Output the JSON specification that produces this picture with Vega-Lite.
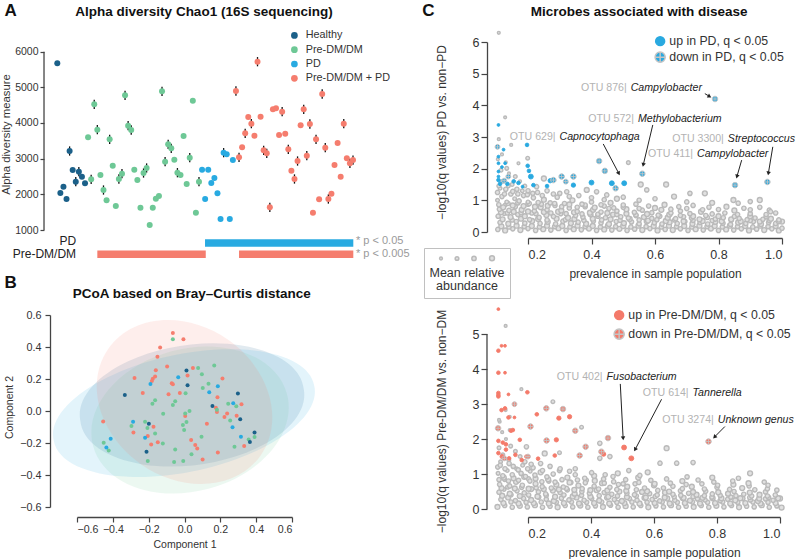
{
"$schema":"https://vega.github.io/schema/vega-lite/v6.json",
"padding":{"left":0,"top":2,"right":25,"bottom":5},
"background":"white",
"columns":2,
"bounds":"flush",
"spacing":{"row":83,"column":175},
"resolve":{"scale":{"x":"independent","y":"independent","color":"independent","fill":"independent","size":"independent","shape":"independent","stroke":"independent","angle":"independent"},"legend":{"color":"independent","fill":"independent","size":"independent","shape":"independent","stroke":"independent"}},
"config":{"font":"Liberation Sans","view":{"stroke":null},"axis":{"grid":false,"domainColor":"#444","tickColor":"#444","labelColor":"#333","titleColor":"#333","titleFontWeight":"normal","domainWidth":1.3,"tickWidth":1.2,"labelOverlap":false,"tickCount":20},"legend":{"labelColor":"#333","labelFont":"Liberation Sans","labelLimit":300}},
"datasets":{
"alpha":[
{"i":0,"v":5674,"g":"Healthy","err":0},{"i":1,"v":2038,"g":"Healthy","err":0},{"i":2,"v":2214,"g":"Healthy","err":0},{"i":3,"v":1869,"g":"Healthy","err":0},{"i":4,"v":3215,"g":"Healthy","err":130},{"i":5,"v":2683,"g":"Healthy","err":0},{"i":6,"v":2354,"g":"Healthy","err":130},{"i":7,"v":2634,"g":"Healthy","err":130},{"i":8,"v":2494,"g":"Healthy","err":0},{"i":9,"v":2309,"g":"Healthy","err":0},
{"i":10,"v":3599,"g":"Pre-DM/DM","err":0},{"i":11,"v":2421,"g":"Pre-DM/DM","err":130},{"i":12,"v":4524,"g":"Pre-DM/DM","err":130},{"i":13,"v":3812,"g":"Pre-DM/DM","err":130},{"i":14,"v":2542,"g":"Pre-DM/DM","err":0},{"i":15,"v":2121,"g":"Pre-DM/DM","err":130},{"i":16,"v":1832,"g":"Pre-DM/DM","err":0},{"i":17,"v":3543,"g":"Pre-DM/DM","err":130},{"i":18,"v":2803,"g":"Pre-DM/DM","err":0},{"i":19,"v":1672,"g":"Pre-DM/DM","err":0},{"i":20,"v":2430,"g":"Pre-DM/DM","err":130},{"i":21,"v":2579,"g":"Pre-DM/DM","err":130},{"i":22,"v":4777,"g":"Pre-DM/DM","err":130},{"i":23,"v":3925,"g":"Pre-DM/DM","err":130},{"i":24,"v":3804,"g":"Pre-DM/DM","err":130},{"i":25,"v":2691,"g":"Pre-DM/DM","err":0},{"i":26,"v":2402,"g":"Pre-DM/DM","err":0},{"i":27,"v":1626,"g":"Pre-DM/DM","err":0},{"i":28,"v":2598,"g":"Pre-DM/DM","err":130},{"i":29,"v":2738,"g":"Pre-DM/DM","err":130},{"i":30,"v":1140,"g":"Pre-DM/DM","err":0},{"i":31,"v":1626,"g":"Pre-DM/DM","err":0},{"i":32,"v":1878,"g":"Pre-DM/DM","err":0},{"i":33,"v":1953,"g":"Pre-DM/DM","err":0},{"i":34,"v":4889,"g":"Pre-DM/DM","err":130},{"i":35,"v":2915,"g":"Pre-DM/DM","err":130},{"i":36,"v":3403,"g":"Pre-DM/DM","err":130},{"i":37,"v":3291,"g":"Pre-DM/DM","err":130},{"i":38,"v":2972,"g":"Pre-DM/DM","err":0},{"i":39,"v":2607,"g":"Pre-DM/DM","err":130},{"i":40,"v":2542,"g":"Pre-DM/DM","err":0},{"i":41,"v":3636,"g":"Pre-DM/DM","err":0},{"i":42,"v":2290,"g":"Pre-DM/DM","err":0},{"i":43,"v":3028,"g":"Pre-DM/DM","err":130},{"i":44,"v":4626,"g":"Pre-DM/DM","err":0},{"i":45,"v":1485,"g":"Pre-DM/DM","err":0},{"i":46,"v":2355,"g":"Pre-DM/DM","err":130},
{"i":47,"v":2691,"g":"PD","err":0},{"i":48,"v":1869,"g":"PD","err":0},{"i":49,"v":2691,"g":"PD","err":0},{"i":50,"v":2318,"g":"PD","err":0},{"i":51,"v":2458,"g":"PD","err":0},{"i":52,"v":2029,"g":"PD","err":0},{"i":53,"v":1308,"g":"PD","err":0},{"i":54,"v":3168,"g":"PD","err":130},{"i":55,"v":3123,"g":"PD","err":0},{"i":56,"v":1308,"g":"PD","err":0},{"i":57,"v":2963,"g":"PD","err":0},
{"i":58,"v":4897,"g":"Pre-DM/DM + PD","err":130},{"i":59,"v":3038,"g":"Pre-DM/DM + PD","err":130},{"i":60,"v":3318,"g":"Pre-DM/DM + PD","err":0},{"i":61,"v":3711,"g":"Pre-DM/DM + PD","err":130},{"i":62,"v":4168,"g":"Pre-DM/DM + PD","err":0},{"i":63,"v":3981,"g":"Pre-DM/DM + PD","err":130},{"i":64,"v":3644,"g":"Pre-DM/DM + PD","err":0},{"i":65,"v":5719,"g":"Pre-DM/DM + PD","err":130},{"i":66,"v":4177,"g":"Pre-DM/DM + PD","err":0},{"i":67,"v":3234,"g":"Pre-DM/DM + PD","err":130},{"i":68,"v":3150,"g":"Pre-DM/DM + PD","err":130},{"i":69,"v":1636,"g":"Pre-DM/DM + PD","err":130},{"i":70,"v":4384,"g":"Pre-DM/DM + PD","err":0},{"i":71,"v":4412,"g":"Pre-DM/DM + PD","err":0},{"i":72,"v":3663,"g":"Pre-DM/DM + PD","err":0},{"i":73,"v":4317,"g":"Pre-DM/DM + PD","err":130},{"i":74,"v":3700,"g":"Pre-DM/DM + PD","err":0},{"i":75,"v":3262,"g":"Pre-DM/DM + PD","err":130},{"i":76,"v":2662,"g":"Pre-DM/DM + PD","err":0},{"i":77,"v":2430,"g":"Pre-DM/DM + PD","err":130},{"i":78,"v":2934,"g":"Pre-DM/DM + PD","err":130},{"i":79,"v":3935,"g":"Pre-DM/DM + PD","err":0},{"i":80,"v":4384,"g":"Pre-DM/DM + PD","err":130},{"i":81,"v":3083,"g":"Pre-DM/DM + PD","err":130},{"i":82,"v":3972,"g":"Pre-DM/DM + PD","err":130},{"i":83,"v":1485,"g":"Pre-DM/DM + PD","err":0},{"i":84,"v":3543,"g":"Pre-DM/DM + PD","err":130},{"i":85,"v":1860,"g":"Pre-DM/DM + PD","err":0},{"i":86,"v":4813,"g":"Pre-DM/DM + PD","err":130},{"i":87,"v":3307,"g":"Pre-DM/DM + PD","err":130},{"i":88,"v":1869,"g":"Pre-DM/DM + PD","err":130},{"i":89,"v":2018,"g":"Pre-DM/DM + PD","err":0},{"i":90,"v":2822,"g":"Pre-DM/DM + PD","err":0},{"i":91,"v":3439,"g":"Pre-DM/DM + PD","err":0},{"i":92,"v":2494,"g":"Pre-DM/DM + PD","err":0},{"i":93,"v":3981,"g":"Pre-DM/DM + PD","err":130},{"i":94,"v":3010,"g":"Pre-DM/DM + PD","err":0},{"i":95,"v":2869,"g":"Pre-DM/DM + PD","err":130},{"i":96,"v":2962,"g":"Pre-DM/DM + PD","err":130}
],
"bars":[{"row":"PD","start":47.96,"end":96.1},{"row":"Pre-DM/DM","start":13,"end":48.2},{"row":"Pre-DM/DM","start":59,"end":96.1}],
"sig":[{"row":"PD","p":"* p < 0.05"},{"row":"Pre-DM/DM","p":"* p < 0.005"}],
"ell":[{"g":"Healthy","cx":0.042,"cy":0.038,"a":0.63},{"g":"Pre-DM/DM","cx":0.031,"cy":-0.056,"a":0.56},{"g":"PD","cx":-0.003,"cy":-0.013,"a":0.743},{"g":"Pre-DM/DM + PD","cx":0.0,"cy":0.056,"a":0.519}],
"pcoa":[
{"g":"Pre-DM/DM + PD","x":-0.065,"y":0.487},{"g":"Pre-DM/DM + PD","x":-0.006,"y":0.449},{"g":"Pre-DM/DM + PD","x":-0.136,"y":0.397},{"g":"Pre-DM/DM + PD","x":-0.151,"y":0.339},{"g":"Pre-DM/DM + PD","x":-0.097,"y":0.278},{"g":"Pre-DM/DM + PD","x":0.047,"y":0.268},{"g":"Pre-DM/DM + PD","x":-0.16,"y":0.255},{"g":"Pre-DM/DM + PD","x":-0.279,"y":0.207},{"g":"Pre-DM/DM + PD","x":-0.164,"y":0.215},{"g":"Pre-DM/DM + PD","x":-0.177,"y":0.201},{"g":"Pre-DM/DM + PD","x":-0.182,"y":0.188},{"g":"Pre-DM/DM + PD","x":0.017,"y":0.222},{"g":"Pre-DM/DM + PD","x":0.212,"y":0.203},{"g":"Pre-DM/DM + PD","x":-0.071,"y":0.173},{"g":"Pre-DM/DM + PD","x":-0.065,"y":0.167},{"g":"Pre-DM/DM + PD","x":-0.233,"y":0.113},{"g":"Pre-DM/DM + PD","x":-0.089,"y":0.104},{"g":"Pre-DM/DM + PD","x":-0.026,"y":0.113},{"g":"Pre-DM/DM + PD","x":0.184,"y":0.086},{"g":"Pre-DM/DM + PD","x":0.318,"y":0.042},{"g":"Pre-DM/DM + PD","x":0.175,"y":0.021},{"g":"Pre-DM/DM + PD","x":0.181,"y":-0.006},{"g":"Pre-DM/DM + PD","x":0.238,"y":-0.015},{"g":"Pre-DM/DM + PD","x":0.223,"y":-0.038},{"g":"Pre-DM/DM + PD","x":0.291,"y":-0.029},{"g":"Pre-DM/DM + PD","x":-0.454,"y":-0.065},{"g":"Pre-DM/DM + PD","x":0.004,"y":-0.031},{"g":"Pre-DM/DM + PD","x":0.125,"y":-0.079},{"g":"Pre-DM/DM + PD","x":-0.173,"y":-0.098},{"g":"Pre-DM/DM + PD","x":-0.285,"y":-0.134},{"g":"Pre-DM/DM + PD","x":-0.205,"y":-0.157},{"g":"Pre-DM/DM + PD","x":-0.186,"y":-0.209},{"g":"Pre-DM/DM + PD","x":-0.149,"y":-0.196},{"g":"Pre-DM/DM + PD","x":0.037,"y":-0.182},{"g":"Pre-DM/DM + PD","x":0.06,"y":-0.213},{"g":"Pre-DM/DM + PD","x":0.071,"y":-0.234},{"g":"Pre-DM/DM + PD","x":0.186,"y":-0.259},{"g":"Pre-DM/DM + PD","x":0.101,"y":-0.303},{"g":"Pre-DM/DM + PD","x":0.333,"y":-0.219},
{"g":"Pre-DM/DM","x":-0.065,"y":0.449},{"g":"Pre-DM/DM","x":0.166,"y":0.284},{"g":"Pre-DM/DM","x":0.076,"y":0.268},{"g":"Pre-DM/DM","x":0.097,"y":0.23},{"g":"Pre-DM/DM","x":0.134,"y":0.171},{"g":"Pre-DM/DM","x":0.102,"y":0.144},{"g":"Pre-DM/DM","x":-0.164,"y":0.067},{"g":"Pre-DM/DM","x":-0.179,"y":0.046},{"g":"Pre-DM/DM","x":-0.052,"y":0.061},{"g":"Pre-DM/DM","x":-0.065,"y":0.038},{"g":"Pre-DM/DM","x":0.028,"y":0.0},{"g":"Pre-DM/DM","x":0.004,"y":-0.015},{"g":"Pre-DM/DM","x":-0.119,"y":-0.017},{"g":"Pre-DM/DM","x":0.244,"y":0.046},{"g":"Pre-DM/DM","x":0.289,"y":0.029},{"g":"Pre-DM/DM","x":0.255,"y":-0.059},{"g":"Pre-DM/DM","x":0.181,"y":0.008},{"g":"Pre-DM/DM","x":0.011,"y":-0.069},{"g":"Pre-DM/DM","x":-0.009,"y":-0.088},{"g":"Pre-DM/DM","x":-0.002,"y":-0.119},{"g":"Pre-DM/DM","x":-0.22,"y":-0.067},{"g":"Pre-DM/DM","x":-0.296,"y":-0.094},{"g":"Pre-DM/DM","x":-0.207,"y":-0.107},{"g":"Pre-DM/DM","x":-0.164,"y":-0.14},{"g":"Pre-DM/DM","x":-0.121,"y":-0.203},{"g":"Pre-DM/DM","x":-0.451,"y":-0.199},{"g":"Pre-DM/DM","x":-0.423,"y":-0.247},{"g":"Pre-DM/DM","x":0.095,"y":-0.161},{"g":"Pre-DM/DM","x":-0.052,"y":-0.24},{"g":"Pre-DM/DM","x":0.039,"y":-0.27},{"g":"Pre-DM/DM","x":-0.205,"y":-0.313},{"g":"Pre-DM/DM","x":-0.058,"y":-0.318},{"g":"Pre-DM/DM","x":-0.007,"y":-0.313},{"g":"Pre-DM/DM","x":0.279,"y":-0.224},{"g":"Pre-DM/DM","x":0.358,"y":-0.178},{"g":"Pre-DM/DM","x":0.391,"y":-0.163},{"g":"Pre-DM/DM","x":0.006,"y":0.111},
{"g":"PD","x":-0.035,"y":0.211},{"g":"PD","x":-0.19,"y":0.169},{"g":"PD","x":0.186,"y":0.155},{"g":"PD","x":0.138,"y":0.117},{"g":"PD","x":0.272,"y":0.048},{"g":"PD","x":-0.287,"y":-0.067},{"g":"PD","x":-0.22,"y":-0.167},{"g":"PD","x":0.268,"y":-0.102},{"g":"PD","x":0.315,"y":-0.161},{"g":"PD","x":-0.412,"y":-0.173},{"g":"PD","x":-0.436,"y":-0.228},
{"g":"Healthy","x":0.011,"y":0.253},{"g":"Healthy","x":0.017,"y":0.161},{"g":"Healthy","x":-0.333,"y":0.1},{"g":"Healthy","x":0.298,"y":0.109},{"g":"Healthy","x":0.156,"y":0.031},{"g":"Healthy","x":0.311,"y":-0.052},{"g":"Healthy","x":-0.199,"y":-0.079},{"g":"Healthy","x":0.391,"y":-0.134},{"g":"Healthy","x":0.365,"y":-0.194},{"g":"Healthy","x":-0.212,"y":-0.255}
],
"gt":[
{"x":0.105,"y":0.08,"s":3},{"x":0.128,"y":0.05,"s":4},{"x":0.152,"y":0.1,"s":3},{"x":0.176,"y":0.06,"s":4},{"x":0.2,"y":0.11,"s":3},{"x":0.224,"y":0.05,"s":3},{"x":0.248,"y":0.09,"s":4},{"x":0.272,"y":0.06,"s":3},{"x":0.296,"y":0.12,"s":4},{"x":0.32,"y":0.05,"s":3},{"x":0.344,"y":0.09,"s":4},{"x":0.368,"y":0.07,"s":3},{"x":0.392,"y":0.11,"s":4},{"x":0.416,"y":0.05,"s":3},{"x":0.44,"y":0.08,"s":4},{"x":0.464,"y":0.06,"s":3},{"x":0.488,"y":0.1,"s":4},{"x":0.512,"y":0.05,"s":3},{"x":0.536,"y":0.09,"s":3},{"x":0.56,"y":0.06,"s":4},{"x":0.584,"y":0.11,"s":3},{"x":0.608,"y":0.05,"s":4},{"x":0.632,"y":0.08,"s":3},{"x":0.656,"y":0.06,"s":4},{"x":0.68,"y":0.1,"s":3},{"x":0.704,"y":0.05,"s":3},{"x":0.728,"y":0.09,"s":4},{"x":0.752,"y":0.06,"s":3},{"x":0.776,"y":0.11,"s":4},{"x":0.8,"y":0.05,"s":3},{"x":0.824,"y":0.08,"s":4},{"x":0.848,"y":0.06,"s":3},{"x":0.872,"y":0.1,"s":3},{"x":0.896,"y":0.05,"s":4},{"x":0.92,"y":0.09,"s":3},{"x":0.944,"y":0.06,"s":4},{"x":0.968,"y":0.1,"s":3},{"x":0.99,"y":0.05,"s":4},{"x":1.0,"y":0.12,"s":3},
{"x":0.116,"y":0.18,"s":4},{"x":0.14,"y":0.16,"s":3},{"x":0.164,"y":0.2,"s":4},{"x":0.188,"y":0.17,"s":3},{"x":0.212,"y":0.19,"s":4},{"x":0.236,"y":0.16,"s":3},{"x":0.26,"y":0.2,"s":4},{"x":0.284,"y":0.17,"s":3},{"x":0.308,"y":0.19,"s":4},{"x":0.332,"y":0.16,"s":3},{"x":0.356,"y":0.2,"s":4},{"x":0.38,"y":0.17,"s":3},{"x":0.404,"y":0.19,"s":4},{"x":0.428,"y":0.16,"s":3},{"x":0.452,"y":0.2,"s":4},{"x":0.476,"y":0.17,"s":3},{"x":0.5,"y":0.19,"s":4},{"x":0.524,"y":0.16,"s":3},{"x":0.548,"y":0.2,"s":4},{"x":0.572,"y":0.17,"s":3},{"x":0.596,"y":0.19,"s":4},{"x":0.62,"y":0.16,"s":3},{"x":0.644,"y":0.2,"s":4},{"x":0.668,"y":0.17,"s":3},{"x":0.692,"y":0.19,"s":4},{"x":0.716,"y":0.16,"s":3},{"x":0.74,"y":0.2,"s":4},{"x":0.764,"y":0.17,"s":3},{"x":0.788,"y":0.19,"s":4},{"x":0.812,"y":0.16,"s":3},{"x":0.836,"y":0.2,"s":4},{"x":0.86,"y":0.17,"s":3},{"x":0.884,"y":0.19,"s":4},{"x":0.908,"y":0.16,"s":3},{"x":0.932,"y":0.2,"s":4},{"x":0.956,"y":0.17,"s":3},{"x":0.98,"y":0.19,"s":4},
{"x":0.112,"y":0.3,"s":3},{"x":0.138,"y":0.26,"s":4},{"x":0.163,"y":0.33,"s":3},{"x":0.19,"y":0.28,"s":3},{"x":0.213,"y":0.35,"s":4},{"x":0.238,"y":0.27,"s":3},{"x":0.262,"y":0.32,"s":4},{"x":0.287,"y":0.25,"s":3},{"x":0.31,"y":0.34,"s":3},{"x":0.335,"y":0.28,"s":4},{"x":0.358,"y":0.31,"s":3},{"x":0.383,"y":0.26,"s":4},{"x":0.406,"y":0.35,"s":3},{"x":0.43,"y":0.29,"s":3},{"x":0.455,"y":0.25,"s":4},{"x":0.478,"y":0.33,"s":3},{"x":0.502,"y":0.28,"s":4},{"x":0.526,"y":0.32,"s":3},{"x":0.55,"y":0.26,"s":3},{"x":0.574,"y":0.34,"s":4},{"x":0.598,"y":0.29,"s":3},{"x":0.622,"y":0.25,"s":3},{"x":0.646,"y":0.31,"s":4},{"x":0.67,"y":0.27,"s":3},{"x":0.694,"y":0.33,"s":3},{"x":0.718,"y":0.26,"s":4},{"x":0.742,"y":0.3,"s":3},{"x":0.766,"y":0.25,"s":3},{"x":0.79,"y":0.32,"s":4},{"x":0.814,"y":0.28,"s":3},{"x":0.838,"y":0.24,"s":3},{"x":0.862,"y":0.3,"s":4},{"x":0.886,"y":0.27,"s":3},{"x":0.91,"y":0.33,"s":3},{"x":0.934,"y":0.25,"s":4},{"x":0.958,"y":0.3,"s":3},{"x":0.98,"y":0.27,"s":3},{"x":1.0,"y":0.33,"s":4},
{"x":0.12,"y":0.4,"s":4},{"x":0.15,"y":0.38,"s":3},{"x":0.178,"y":0.42,"s":4},{"x":0.205,"y":0.39,"s":3},{"x":0.232,"y":0.41,"s":4},{"x":0.26,"y":0.38,"s":3},{"x":0.29,"y":0.42,"s":4},{"x":0.318,"y":0.39,"s":3},{"x":0.346,"y":0.41,"s":4},{"x":0.376,"y":0.37,"s":3},{"x":0.404,"y":0.42,"s":4},{"x":0.432,"y":0.38,"s":3},{"x":0.46,"y":0.4,"s":4},{"x":0.49,"y":0.37,"s":3},{"x":0.52,"y":0.41,"s":4},{"x":0.55,"y":0.38,"s":3},{"x":0.578,"y":0.36,"s":4},{"x":0.606,"y":0.39,"s":3},{"x":0.634,"y":0.35,"s":4},{"x":0.662,"y":0.38,"s":3},{"x":0.69,"y":0.34,"s":4},{"x":0.72,"y":0.37,"s":3},{"x":0.75,"y":0.35,"s":4},{"x":0.78,"y":0.36,"s":3},{"x":0.81,"y":0.34,"s":4},{"x":0.84,"y":0.37,"s":3},{"x":0.87,"y":0.34,"s":4},{"x":0.9,"y":0.36,"s":3},{"x":0.93,"y":0.33,"s":4},{"x":0.96,"y":0.36,"s":3},{"x":0.99,"y":0.34,"s":4},
{"x":0.106,"y":0.5,"s":3},{"x":0.125,"y":0.58,"s":2},{"x":0.145,"y":0.47,"s":4},{"x":0.168,"y":0.55,"s":3},{"x":0.19,"y":0.5,"s":4},{"x":0.212,"y":0.6,"s":3},{"x":0.235,"y":0.46,"s":3},{"x":0.258,"y":0.54,"s":4},{"x":0.28,"y":0.49,"s":3},{"x":0.303,"y":0.58,"s":3},{"x":0.326,"y":0.45,"s":4},{"x":0.35,"y":0.52,"s":3},{"x":0.373,"y":0.47,"s":3},{"x":0.397,"y":0.56,"s":4},{"x":0.42,"y":0.5,"s":3},{"x":0.444,"y":0.45,"s":3},{"x":0.468,"y":0.55,"s":4},{"x":0.492,"y":0.48,"s":3},{"x":0.516,"y":0.44,"s":3},{"x":0.54,"y":0.52,"s":3},{"x":0.565,"y":0.47,"s":4},{"x":0.59,"y":0.43,"s":3},{"x":0.615,"y":0.5,"s":3},{"x":0.64,"y":0.45,"s":4},{"x":0.665,"y":0.42,"s":3},{"x":0.69,"y":0.48,"s":3},{"x":0.715,"y":0.44,"s":3},{"x":0.74,"y":0.4,"s":4},{"x":0.765,"y":0.46,"s":3},{"x":0.79,"y":0.41,"s":3},{"x":0.815,"y":0.45,"s":3},{"x":0.84,"y":0.4,"s":4},{"x":0.865,"y":0.43,"s":3},{"x":0.89,"y":0.39,"s":3},{"x":0.915,"y":0.44,"s":3},{"x":0.94,"y":0.4,"s":3},{"x":0.965,"y":0.42,"s":4},{"x":0.99,"y":0.38,"s":3},
{"x":0.115,"y":0.62,"s":4},{"x":0.135,"y":0.6,"s":3},{"x":0.155,"y":0.64,"s":4},{"x":0.178,"y":0.61,"s":3},{"x":0.2,"y":0.65,"s":4},{"x":0.225,"y":0.58,"s":3},{"x":0.25,"y":0.63,"s":4},{"x":0.272,"y":0.6,"s":3},{"x":0.295,"y":0.64,"s":4},{"x":0.32,"y":0.58,"s":3},{"x":0.345,"y":0.62,"s":4},{"x":0.37,"y":0.57,"s":3},{"x":0.395,"y":0.61,"s":4},{"x":0.42,"y":0.56,"s":3},{"x":0.45,"y":0.6,"s":4},{"x":0.48,"y":0.55,"s":3},{"x":0.51,"y":0.58,"s":4},{"x":0.54,"y":0.54,"s":3},{"x":0.575,"y":0.57,"s":4},{"x":0.61,"y":0.53,"s":3},{"x":0.645,"y":0.55,"s":4},{"x":0.68,"y":0.52,"s":3},{"x":0.72,"y":0.5,"s":4},{"x":0.76,"y":0.52,"s":3},{"x":0.8,"y":0.5,"s":4},{"x":0.85,"y":0.49,"s":3},{"x":0.9,"y":0.5,"s":4},{"x":0.95,"y":0.48,"s":3},
{"x":0.11,"y":0.72,"s":3},{"x":0.128,"y":0.85,"s":2},{"x":0.14,"y":0.68,"s":3},{"x":0.16,"y":0.8,"s":3},{"x":0.18,"y":0.7,"s":4},{"x":0.2,"y":0.88,"s":3},{"x":0.22,"y":0.66,"s":3},{"x":0.24,"y":0.78,"s":4},{"x":0.26,"y":0.7,"s":3},{"x":0.285,"y":0.84,"s":3},{"x":0.305,"y":0.68,"s":4},{"x":0.33,"y":0.76,"s":3},{"x":0.355,"y":0.65,"s":3},{"x":0.38,"y":0.8,"s":3},{"x":0.405,"y":0.7,"s":4},{"x":0.43,"y":0.63,"s":3},{"x":0.455,"y":0.74,"s":3},{"x":0.48,"y":0.66,"s":3},{"x":0.51,"y":0.72,"s":4},{"x":0.535,"y":0.62,"s":3},{"x":0.56,"y":0.69,"s":3},{"x":0.59,"y":0.61,"s":3},{"x":0.62,"y":0.7,"s":4},{"x":0.65,"y":0.6,"s":3},{"x":0.68,"y":0.66,"s":3},{"x":0.71,"y":0.58,"s":3},{"x":0.745,"y":0.64,"s":4},{"x":0.78,"y":0.57,"s":3},{"x":0.82,"y":0.6,"s":3},{"x":0.86,"y":0.55,"s":3},{"x":0.9,"y":0.58,"s":3},{"x":0.95,"y":0.55,"s":3},{"x":0.98,"y":0.6,"s":3},
{"x":0.108,"y":0.86,"s":3},{"x":0.122,"y":0.78,"s":4},{"x":0.137,"y":0.9,"s":3},{"x":0.152,"y":0.84,"s":4},{"x":0.168,"y":0.92,"s":3},{"x":0.186,"y":0.82,"s":4},{"x":0.204,"y":0.9,"s":3},{"x":0.222,"y":0.8,"s":4},{"x":0.242,"y":0.88,"s":3},{"x":0.262,"y":0.83,"s":4},{"x":0.284,"y":0.9,"s":3},{"x":0.306,"y":0.8,"s":3},{"x":0.33,"y":0.87,"s":4},{"x":0.355,"y":0.78,"s":3},{"x":0.38,"y":0.85,"s":3},{"x":0.41,"y":0.77,"s":4},{"x":0.44,"y":0.82,"s":3},{"x":0.47,"y":0.76,"s":3},{"x":0.5,"y":0.78,"s":3},{"x":0.55,"y":0.74,"s":3},{"x":0.6,"y":0.76,"s":4},{"x":0.65,"y":0.72,"s":3},{"x":0.7,"y":0.74,"s":3},{"x":0.75,"y":0.7,"s":3},{"x":0.8,"y":0.71,"s":3},{"x":0.85,"y":0.68,"s":4},{"x":0.9,"y":0.7,"s":3},{"x":0.96,"y":0.69,"s":3},
{"x":0.104,"y":1.0,"s":2},{"x":0.118,"y":1.12,"s":3},{"x":0.133,"y":0.95,"s":2},{"x":0.146,"y":1.2,"s":3},{"x":0.158,"y":1.05,"s":2},{"x":0.172,"y":0.98,"s":3},{"x":0.186,"y":1.15,"s":3},{"x":0.2,"y":0.95,"s":2},{"x":0.217,"y":1.08,"s":3},{"x":0.232,"y":0.93,"s":3},{"x":0.25,"y":1.02,"s":4},{"x":0.27,"y":0.92,"s":3},{"x":0.292,"y":1.1,"s":3},{"x":0.315,"y":0.9,"s":3},{"x":0.34,"y":1.0,"s":4},{"x":0.37,"y":0.88,"s":3},{"x":0.4,"y":0.95,"s":3},{"x":0.43,"y":0.86,"s":3},{"x":0.46,"y":0.92,"s":4},{"x":0.5,"y":0.85,"s":3},{"x":0.54,"y":0.88,"s":3},{"x":0.58,"y":0.82,"s":3},{"x":0.63,"y":0.86,"s":4},{"x":0.675,"y":0.8,"s":3},{"x":0.72,"y":0.84,"s":3},{"x":0.77,"y":0.78,"s":3},{"x":0.825,"y":0.8,"s":4},{"x":0.88,"y":0.75,"s":3},{"x":0.93,"y":0.78,"s":3},
{"x":0.104,"y":1.25,"s":3},{"x":0.112,"y":1.38,"s":2},{"x":0.126,"y":1.2,"s":3},{"x":0.138,"y":1.45,"s":2},{"x":0.152,"y":1.28,"s":3},{"x":0.168,"y":1.2,"s":3},{"x":0.182,"y":1.3,"s":2},{"x":0.198,"y":1.18,"s":3},{"x":0.215,"y":1.22,"s":3},{"x":0.245,"y":1.15,"s":3},{"x":0.3,"y":1.22,"s":3},{"x":0.33,"y":1.12,"s":3},{"x":0.4,"y":1.08,"s":3},{"x":0.44,"y":1.02,"s":3},{"x":0.48,"y":1.05,"s":4},{"x":0.55,"y":1.0,"s":3},{"x":0.7,"y":0.95,"s":3},{"x":0.78,"y":0.92,"s":4},
{"x":0.108,"y":6.29,"s":1},{"x":0.128,"y":3.62,"s":1},{"x":0.108,"y":2.93,"s":1},{"x":0.147,"y":2.75,"s":1},{"x":0.199,"y":2.33,"s":2},{"x":0.516,"y":2.19,"s":2},{"x":0.25,"y":1.69,"s":4},{"x":0.133,"y":2.01,"s":2},{"x":0.17,"y":2.17,"s":1},{"x":0.555,"y":1.5,"s":4},{"x":0.635,"y":1.5,"s":4},{"x":0.574,"y":1.33,"s":3},{"x":0.71,"y":1.22,"s":3},{"x":0.757,"y":1.22,"s":4},{"x":0.847,"y":1.01,"s":4},{"x":0.862,"y":0.91,"s":3},{"x":0.9,"y":0.96,"s":3},{"x":0.93,"y":1.01,"s":4},{"x":0.964,"y":0.64,"s":3},{"x":0.416,"y":1.27,"s":3},{"x":0.448,"y":1.17,"s":3},{"x":0.385,"y":1.33,"s":4},{"x":0.322,"y":1.27,"s":3},{"x":0.227,"y":1.43,"s":3},{"x":0.105,"y":2.3,"s":1},{"x":0.118,"y":2.45,"s":1},{"x":0.13,"y":2.2,"s":1},{"x":0.115,"y":1.95,"s":2},{"x":0.14,"y":1.85,"s":1},{"x":0.16,"y":1.75,"s":2},{"x":0.12,"y":1.6,"s":2},{"x":0.15,"y":1.5,"s":2},{"x":0.175,"y":1.6,"s":1},{"x":0.19,"y":1.45,"s":2},{"x":0.108,"y":1.45,"s":2},{"x":0.13,"y":1.35,"s":3},{"x":0.165,"y":1.35,"s":3},{"x":0.2,"y":1.3,"s":3},{"x":0.23,"y":1.25,"s":3},{"x":0.26,"y":1.3,"s":3},{"x":0.28,"y":1.2,"s":3},{"x":0.36,"y":1.15,"s":3},{"x":0.5,"y":1.1,"s":3},{"x":0.6,"y":1.05,"s":3},{"x":0.66,"y":1.12,"s":4}
],
"st":[
{"x":0.107,"y":3.38,"s":1,"d":"up"},{"x":0.107,"y":2.38,"s":1,"d":"up"},{"x":0.107,"y":2.17,"s":1,"d":"up"},{"x":0.128,"y":2.17,"s":1,"d":"up"},{"x":0.118,"y":2.05,"s":1,"d":"up"},{"x":0.107,"y":1.91,"s":1,"d":"up"},{"x":0.107,"y":1.75,"s":1,"d":"up"},{"x":0.107,"y":1.64,"s":2,"d":"up"},{"x":0.112,"y":1.52,"s":2,"d":"up"},{"x":0.123,"y":2.6,"s":1,"d":"up"},{"x":0.197,"y":2.75,"s":2,"d":"up"},{"x":0.199,"y":2.09,"s":2,"d":"up"},{"x":0.203,"y":1.93,"s":2,"d":"up"},{"x":0.209,"y":1.75,"s":4,"d":"up"},{"x":0.217,"y":1.48,"s":2,"d":"up"},{"x":0.183,"y":1.43,"s":1,"d":"up"},{"x":0.17,"y":1.55,"s":2,"d":"up"},{"x":0.155,"y":1.6,"s":2,"d":"up"},{"x":0.135,"y":1.52,"s":2,"d":"up"},{"x":0.26,"y":1.45,"s":2,"d":"up"},{"x":0.343,"y":1.48,"s":3,"d":"up"},{"x":0.4,"y":1.56,"s":4,"d":"up"},{"x":0.464,"y":1.54,"s":4,"d":"up"},{"x":0.503,"y":1.54,"s":4,"d":"up"},{"x":0.27,"y":1.62,"s":3,"d":"up"},
{"x":0.104,"y":2.69,"s":3,"d":"down"},{"x":0.125,"y":1.62,"s":3,"d":"down"},{"x":0.138,"y":1.75,"s":3,"d":"down"},{"x":0.28,"y":1.64,"s":4,"d":"down"},{"x":0.306,"y":1.75,"s":4,"d":"down"},{"x":0.319,"y":1.59,"s":3,"d":"down"},{"x":0.343,"y":1.75,"s":4,"d":"down"},{"x":0.424,"y":2.24,"s":4,"d":"down"},{"x":0.442,"y":1.93,"s":4,"d":"down"},{"x":0.476,"y":1.38,"s":4,"d":"down"},{"x":0.56,"y":1.84,"s":4,"d":"down"},{"x":0.789,"y":4.2,"s":4,"d":"down"},{"x":0.852,"y":1.48,"s":4,"d":"down"},{"x":0.954,"y":1.58,"s":4,"d":"down"}
],
"at":[
{"otu":"OTU 876|","name":"Campylobacter","bx":0.514,"ly":4.54,"x1":0.757,"y1":4.37,"x2":0.772,"y2":4.28,"ang":119},
{"otu":"OTU 572|","name":"Methylobacterium","bx":0.537,"ly":3.57,"x1":0.593,"y1":3.38,"x2":0.563,"y2":2.12,"ang":193},
{"otu":"OTU 629|","name":"Capnocytophaga","bx":0.29,"ly":3.01,"x1":0.437,"y1":2.78,"x2":0.486,"y2":1.85,"ang":152},
{"otu":"OTU 3300|","name":"Streptococcus","bx":0.82,"ly":2.93,"x1":0.971,"y1":2.69,"x2":0.957,"y2":1.85,"ang":190},
{"otu":"OTU 411|","name":"Campylobacter","bx":0.723,"ly":2.46,"x1":0.873,"y1":2.27,"x2":0.858,"y2":1.75,"ang":196}
],
"gb":[
{"x":0.103,"y":0.06,"s":4},{"x":0.126,"y":0.1,"s":3},{"x":0.15,"y":0.05,"s":3},{"x":0.174,"y":0.09,"s":4},{"x":0.198,"y":0.06,"s":3},{"x":0.222,"y":0.11,"s":4},{"x":0.246,"y":0.05,"s":3},{"x":0.27,"y":0.08,"s":3},{"x":0.294,"y":0.05,"s":4},{"x":0.318,"y":0.1,"s":3},{"x":0.342,"y":0.06,"s":3},{"x":0.366,"y":0.1,"s":4},{"x":0.39,"y":0.05,"s":3},{"x":0.414,"y":0.09,"s":3},{"x":0.438,"y":0.06,"s":4},{"x":0.462,"y":0.11,"s":3},{"x":0.486,"y":0.05,"s":3},{"x":0.51,"y":0.08,"s":4},{"x":0.534,"y":0.06,"s":3},{"x":0.558,"y":0.1,"s":3},{"x":0.582,"y":0.05,"s":4},{"x":0.606,"y":0.09,"s":3},{"x":0.63,"y":0.06,"s":3},{"x":0.654,"y":0.11,"s":4},{"x":0.678,"y":0.05,"s":3},{"x":0.702,"y":0.08,"s":3},{"x":0.726,"y":0.06,"s":4},{"x":0.75,"y":0.1,"s":3},{"x":0.774,"y":0.05,"s":3},{"x":0.798,"y":0.09,"s":4},{"x":0.822,"y":0.06,"s":3},{"x":0.846,"y":0.1,"s":3},{"x":0.87,"y":0.05,"s":4},{"x":0.894,"y":0.08,"s":3},{"x":0.918,"y":0.06,"s":3},{"x":0.942,"y":0.11,"s":4},{"x":0.966,"y":0.05,"s":3},{"x":0.99,"y":0.09,"s":3},{"x":1.005,"y":0.04,"s":4},
{"x":0.122,"y":0.17,"s":4},{"x":0.146,"y":0.2,"s":3},{"x":0.17,"y":0.16,"s":4},{"x":0.194,"y":0.19,"s":3},{"x":0.218,"y":0.17,"s":4},{"x":0.242,"y":0.2,"s":3},{"x":0.266,"y":0.16,"s":4},{"x":0.29,"y":0.19,"s":3},{"x":0.314,"y":0.17,"s":4},{"x":0.338,"y":0.2,"s":3},{"x":0.362,"y":0.16,"s":4},{"x":0.386,"y":0.19,"s":3},{"x":0.41,"y":0.17,"s":4},{"x":0.434,"y":0.2,"s":3},{"x":0.458,"y":0.16,"s":4},{"x":0.482,"y":0.19,"s":3},{"x":0.506,"y":0.17,"s":4},{"x":0.53,"y":0.2,"s":3},{"x":0.554,"y":0.16,"s":4},{"x":0.578,"y":0.19,"s":3},{"x":0.602,"y":0.17,"s":4},{"x":0.626,"y":0.2,"s":3},{"x":0.65,"y":0.16,"s":4},{"x":0.674,"y":0.19,"s":3},{"x":0.698,"y":0.17,"s":4},{"x":0.722,"y":0.2,"s":3},{"x":0.746,"y":0.16,"s":4},{"x":0.77,"y":0.19,"s":3},{"x":0.794,"y":0.17,"s":4},{"x":0.818,"y":0.2,"s":3},{"x":0.842,"y":0.16,"s":4},{"x":0.866,"y":0.19,"s":3},{"x":0.89,"y":0.17,"s":4},{"x":0.914,"y":0.2,"s":3},{"x":0.938,"y":0.16,"s":4},{"x":0.962,"y":0.19,"s":3},{"x":0.986,"y":0.17,"s":4},
{"x":0.114,"y":0.27,"s":3},{"x":0.137,"y":0.33,"s":4},{"x":0.16,"y":0.24,"s":3},{"x":0.186,"y":0.3,"s":3},{"x":0.21,"y":0.26,"s":4},{"x":0.234,"y":0.34,"s":3},{"x":0.258,"y":0.28,"s":3},{"x":0.282,"y":0.23,"s":4},{"x":0.306,"y":0.31,"s":3},{"x":0.33,"y":0.26,"s":3},{"x":0.354,"y":0.33,"s":4},{"x":0.378,"y":0.25,"s":3},{"x":0.402,"y":0.3,"s":3},{"x":0.426,"y":0.24,"s":4},{"x":0.45,"y":0.32,"s":3},{"x":0.474,"y":0.27,"s":3},{"x":0.498,"y":0.23,"s":4},{"x":0.522,"y":0.3,"s":3},{"x":0.546,"y":0.25,"s":3},{"x":0.57,"y":0.32,"s":4},{"x":0.594,"y":0.27,"s":3},{"x":0.618,"y":0.23,"s":3},{"x":0.642,"y":0.3,"s":4},{"x":0.666,"y":0.25,"s":3},{"x":0.69,"y":0.31,"s":3},{"x":0.714,"y":0.24,"s":4},{"x":0.738,"y":0.29,"s":3},{"x":0.762,"y":0.26,"s":3},{"x":0.786,"y":0.31,"s":4},{"x":0.81,"y":0.24,"s":3},{"x":0.834,"y":0.28,"s":3},{"x":0.858,"y":0.25,"s":4},{"x":0.882,"y":0.3,"s":3},{"x":0.906,"y":0.26,"s":3},{"x":0.93,"y":0.23,"s":4},{"x":0.954,"y":0.29,"s":3},{"x":0.978,"y":0.25,"s":3},{"x":1.0,"y":0.3,"s":4},
{"x":0.118,"y":0.38,"s":4},{"x":0.146,"y":0.41,"s":3},{"x":0.174,"y":0.37,"s":4},{"x":0.202,"y":0.4,"s":3},{"x":0.23,"y":0.36,"s":4},{"x":0.258,"y":0.39,"s":3},{"x":0.286,"y":0.35,"s":4},{"x":0.314,"y":0.4,"s":3},{"x":0.342,"y":0.36,"s":4},{"x":0.37,"y":0.39,"s":3},{"x":0.398,"y":0.35,"s":4},{"x":0.426,"y":0.38,"s":3},{"x":0.455,"y":0.35,"s":4},{"x":0.484,"y":0.37,"s":3},{"x":0.514,"y":0.34,"s":4},{"x":0.544,"y":0.37,"s":3},{"x":0.574,"y":0.33,"s":4},{"x":0.604,"y":0.36,"s":3},{"x":0.634,"y":0.33,"s":4},{"x":0.664,"y":0.35,"s":3},{"x":0.694,"y":0.32,"s":4},{"x":0.724,"y":0.35,"s":3},{"x":0.754,"y":0.32,"s":4},{"x":0.784,"y":0.34,"s":3},{"x":0.814,"y":0.31,"s":4},{"x":0.844,"y":0.34,"s":3},{"x":0.874,"y":0.31,"s":4},{"x":0.904,"y":0.33,"s":3},{"x":0.934,"y":0.3,"s":4},{"x":0.964,"y":0.33,"s":3},{"x":0.994,"y":0.31,"s":4},
{"x":0.108,"y":0.48,"s":3},{"x":0.124,"y":0.56,"s":2},{"x":0.142,"y":0.44,"s":4},{"x":0.165,"y":0.52,"s":3},{"x":0.188,"y":0.46,"s":3},{"x":0.21,"y":0.57,"s":4},{"x":0.233,"y":0.49,"s":3},{"x":0.256,"y":0.43,"s":3},{"x":0.279,"y":0.53,"s":4},{"x":0.302,"y":0.47,"s":3},{"x":0.325,"y":0.55,"s":3},{"x":0.348,"y":0.44,"s":4},{"x":0.371,"y":0.5,"s":3},{"x":0.395,"y":0.45,"s":3},{"x":0.418,"y":0.54,"s":4},{"x":0.442,"y":0.47,"s":3},{"x":0.466,"y":0.42,"s":3},{"x":0.49,"y":0.5,"s":4},{"x":0.514,"y":0.45,"s":3},{"x":0.538,"y":0.41,"s":3},{"x":0.562,"y":0.49,"s":4},{"x":0.586,"y":0.44,"s":3},{"x":0.61,"y":0.4,"s":3},{"x":0.635,"y":0.47,"s":4},{"x":0.66,"y":0.42,"s":3},{"x":0.685,"y":0.39,"s":3},{"x":0.71,"y":0.45,"s":3},{"x":0.735,"y":0.41,"s":4},{"x":0.76,"y":0.38,"s":3},{"x":0.785,"y":0.43,"s":3},{"x":0.81,"y":0.39,"s":3},{"x":0.835,"y":0.44,"s":4},{"x":0.86,"y":0.38,"s":3},{"x":0.885,"y":0.42,"s":3},{"x":0.91,"y":0.37,"s":3},{"x":0.935,"y":0.41,"s":4},{"x":0.96,"y":0.37,"s":3},{"x":0.985,"y":0.4,"s":3},
{"x":0.116,"y":0.6,"s":4},{"x":0.136,"y":0.63,"s":3},{"x":0.158,"y":0.59,"s":4},{"x":0.18,"y":0.62,"s":3},{"x":0.202,"y":0.58,"s":4},{"x":0.226,"y":0.61,"s":3},{"x":0.25,"y":0.57,"s":4},{"x":0.274,"y":0.6,"s":3},{"x":0.298,"y":0.56,"s":4},{"x":0.322,"y":0.59,"s":3},{"x":0.347,"y":0.55,"s":4},{"x":0.372,"y":0.58,"s":3},{"x":0.398,"y":0.54,"s":4},{"x":0.424,"y":0.57,"s":3},{"x":0.452,"y":0.53,"s":4},{"x":0.482,"y":0.56,"s":3},{"x":0.512,"y":0.52,"s":4},{"x":0.544,"y":0.55,"s":3},{"x":0.578,"y":0.51,"s":4},{"x":0.612,"y":0.53,"s":3},{"x":0.648,"y":0.5,"s":4},{"x":0.684,"y":0.52,"s":3},{"x":0.724,"y":0.49,"s":4},{"x":0.764,"y":0.51,"s":3},{"x":0.804,"y":0.48,"s":4},{"x":0.854,"y":0.5,"s":3},{"x":0.904,"y":0.47,"s":4},{"x":0.954,"y":0.49,"s":3},
{"x":0.11,"y":0.7,"s":3},{"x":0.126,"y":0.84,"s":2},{"x":0.142,"y":0.66,"s":3},{"x":0.162,"y":0.78,"s":4},{"x":0.182,"y":0.68,"s":3},{"x":0.202,"y":0.86,"s":3},{"x":0.224,"y":0.72,"s":4},{"x":0.245,"y":0.64,"s":3},{"x":0.266,"y":0.8,"s":3},{"x":0.29,"y":0.7,"s":4},{"x":0.312,"y":0.63,"s":3},{"x":0.336,"y":0.76,"s":3},{"x":0.36,"y":0.67,"s":4},{"x":0.385,"y":0.82,"s":3},{"x":0.41,"y":0.65,"s":3},{"x":0.435,"y":0.74,"s":4},{"x":0.46,"y":0.62,"s":3},{"x":0.487,"y":0.7,"s":3},{"x":0.515,"y":0.64,"s":4},{"x":0.54,"y":0.72,"s":3},{"x":0.57,"y":0.6,"s":3},{"x":0.6,"y":0.68,"s":4},{"x":0.63,"y":0.6,"s":3},{"x":0.66,"y":0.65,"s":3},{"x":0.69,"y":0.58,"s":3},{"x":0.72,"y":0.64,"s":4},{"x":0.76,"y":0.57,"s":3},{"x":0.8,"y":0.62,"s":3},{"x":0.84,"y":0.56,"s":3},{"x":0.88,"y":0.6,"s":4},{"x":0.92,"y":0.55,"s":3},{"x":0.96,"y":0.58,"s":3},{"x":0.99,"y":0.54,"s":3},
{"x":0.108,"y":0.84,"s":3},{"x":0.123,"y":0.9,"s":4},{"x":0.138,"y":0.8,"s":3},{"x":0.154,"y":0.88,"s":4},{"x":0.17,"y":0.82,"s":3},{"x":0.188,"y":0.92,"s":4},{"x":0.206,"y":0.8,"s":3},{"x":0.224,"y":0.87,"s":4},{"x":0.244,"y":0.78,"s":3},{"x":0.264,"y":0.85,"s":4},{"x":0.286,"y":0.77,"s":3},{"x":0.308,"y":0.84,"s":3},{"x":0.332,"y":0.76,"s":4},{"x":0.357,"y":0.83,"s":3},{"x":0.382,"y":0.75,"s":3},{"x":0.412,"y":0.81,"s":4},{"x":0.442,"y":0.74,"s":3},{"x":0.472,"y":0.78,"s":3},{"x":0.502,"y":0.72,"s":3},{"x":0.552,"y":0.76,"s":3},{"x":0.602,"y":0.72,"s":4},{"x":0.652,"y":0.74,"s":3},{"x":0.702,"y":0.7,"s":3},{"x":0.752,"y":0.72,"s":3},{"x":0.802,"y":0.68,"s":3},{"x":0.852,"y":0.7,"s":4},{"x":0.902,"y":0.66,"s":3},{"x":0.962,"y":0.68,"s":3},
{"x":0.105,"y":1.02,"s":2},{"x":0.12,"y":0.95,"s":3},{"x":0.134,"y":1.1,"s":2},{"x":0.15,"y":0.98,"s":3},{"x":0.164,"y":1.15,"s":2},{"x":0.178,"y":1.02,"s":3},{"x":0.192,"y":0.93,"s":3},{"x":0.207,"y":1.08,"s":2},{"x":0.222,"y":0.97,"s":3},{"x":0.24,"y":1.05,"s":4},{"x":0.26,"y":0.92,"s":3},{"x":0.28,"y":1.0,"s":3},{"x":0.3,"y":1.1,"s":3},{"x":0.325,"y":0.9,"s":4},{"x":0.35,"y":0.98,"s":3},{"x":0.38,"y":0.88,"s":3},{"x":0.41,"y":0.95,"s":4},{"x":0.44,"y":0.86,"s":3},{"x":0.47,"y":0.93,"s":3},{"x":0.51,"y":0.84,"s":3},{"x":0.55,"y":0.9,"s":4},{"x":0.59,"y":0.82,"s":3},{"x":0.64,"y":0.86,"s":3},{"x":0.69,"y":0.8,"s":4},{"x":0.74,"y":0.83,"s":3},{"x":0.79,"y":0.77,"s":3},{"x":0.85,"y":0.8,"s":3},{"x":0.9,"y":0.74,"s":4},{"x":0.95,"y":0.77,"s":3},
{"x":0.104,"y":1.2,"s":3},{"x":0.113,"y":1.35,"s":2},{"x":0.127,"y":1.15,"s":3},{"x":0.139,"y":1.4,"s":2},{"x":0.153,"y":1.22,"s":3},{"x":0.169,"y":1.12,"s":3},{"x":0.183,"y":1.25,"s":2},{"x":0.199,"y":1.15,"s":3},{"x":0.216,"y":1.18,"s":3},{"x":0.246,"y":1.1,"s":3},{"x":0.302,"y":1.15,"s":3},{"x":0.332,"y":1.08,"s":3},{"x":0.402,"y":1.04,"s":3},{"x":0.445,"y":0.98,"s":3},{"x":0.485,"y":1.02,"s":4},{"x":0.555,"y":0.96,"s":3},{"x":0.705,"y":0.92,"s":3},{"x":0.785,"y":0.9,"s":4},
{"x":0.129,"y":5.24,"s":1},{"x":0.179,"y":3.43,"s":1},{"x":0.279,"y":3.07,"s":2},{"x":0.37,"y":2.34,"s":2},{"x":0.428,"y":1.88,"s":3},{"x":0.64,"y":1.74,"s":4},{"x":0.619,"y":1.31,"s":3},{"x":0.672,"y":1.31,"s":3},{"x":0.724,"y":1.33,"s":3},{"x":0.905,"y":1.02,"s":4},{"x":0.868,"y":0.88,"s":3},{"x":0.3,"y":1.61,"s":2},{"x":0.253,"y":1.59,"s":4},{"x":0.46,"y":1.5,"s":3},{"x":0.428,"y":1.45,"s":3},{"x":0.195,"y":1.78,"s":3},{"x":0.142,"y":2.64,"s":1},{"x":0.129,"y":2.83,"s":1},{"x":0.11,"y":2.5,"s":1},{"x":0.142,"y":2.26,"s":1},{"x":0.108,"y":2.55,"s":1},{"x":0.118,"y":2.2,"s":1},{"x":0.13,"y":2.0,"s":1},{"x":0.145,"y":1.8,"s":2},{"x":0.108,"y":1.75,"s":2},{"x":0.16,"y":1.65,"s":2},{"x":0.12,"y":1.55,"s":2},{"x":0.175,"y":1.5,"s":2},{"x":0.19,"y":1.35,"s":3},{"x":0.21,"y":1.28,"s":3},{"x":0.24,"y":1.3,"s":3},{"x":0.27,"y":1.22,"s":3},{"x":0.14,"y":1.3,"s":3},{"x":0.112,"y":1.25,"s":3},{"x":0.35,"y":1.15,"s":3},{"x":0.52,"y":1.1,"s":3},{"x":0.58,"y":1.05,"s":4}
],
"sb":[
{"x":0.106,"y":5.72,"s":1,"d":"up"},{"x":0.116,"y":4.67,"s":1,"d":"up"},{"x":0.127,"y":4.67,"s":1,"d":"up"},{"x":0.106,"y":4.53,"s":2,"d":"up"},{"x":0.106,"y":3.9,"s":2,"d":"up"},{"x":0.127,"y":3.9,"s":1,"d":"up"},{"x":0.106,"y":3.32,"s":2,"d":"up"},{"x":0.106,"y":3.22,"s":2,"d":"up"},{"x":0.138,"y":3.28,"s":1,"d":"up"},{"x":0.198,"y":3.34,"s":2,"d":"up"},{"x":0.116,"y":2.83,"s":2,"d":"up"},{"x":0.127,"y":2.88,"s":2,"d":"up"},{"x":0.138,"y":2.62,"s":2,"d":"up"},{"x":0.157,"y":2.62,"s":1,"d":"up"},{"x":0.228,"y":2.71,"s":2,"d":"up"},{"x":0.298,"y":2.6,"s":3,"d":"up"},{"x":0.332,"y":2.64,"s":3,"d":"up"},{"x":0.146,"y":2.24,"s":2,"d":"up"},{"x":0.106,"y":1.95,"s":2,"d":"up"},{"x":0.12,"y":1.9,"s":2,"d":"up"},{"x":0.13,"y":1.85,"s":2,"d":"up"},{"x":0.152,"y":2.26,"s":2,"d":"up"},{"x":0.174,"y":1.98,"s":2,"d":"up"},{"x":0.29,"y":1.98,"s":3,"d":"up"},{"x":0.44,"y":1.57,"s":3,"d":"up"},{"x":0.285,"y":1.53,"s":2,"d":"up"},{"x":0.232,"y":1.44,"s":2,"d":"up"},{"x":0.505,"y":1.76,"s":4,"d":"up"},{"x":0.528,"y":1.45,"s":4,"d":"up"},{"x":0.106,"y":1.6,"s":2,"d":"up"},{"x":0.118,"y":1.5,"s":3,"d":"up"},{"x":0.14,"y":1.45,"s":2,"d":"up"},{"x":0.16,"y":1.55,"s":2,"d":"up"},{"x":0.18,"y":1.4,"s":2,"d":"up"},{"x":0.195,"y":1.5,"s":2,"d":"up"},{"x":0.13,"y":1.7,"s":2,"d":"up"},{"x":0.106,"y":3.26,"s":2,"d":"up"},
{"x":0.157,"y":3.0,"s":3,"d":"down"},{"x":0.105,"y":2.31,"s":4,"d":"down"},{"x":0.208,"y":2.36,"s":4,"d":"down"},{"x":0.258,"y":2.88,"s":4,"d":"down"},{"x":0.311,"y":2.86,"s":4,"d":"down"},{"x":0.35,"y":2.24,"s":4,"d":"down"},{"x":0.259,"y":1.96,"s":4,"d":"down"},{"x":0.383,"y":1.78,"s":4,"d":"down"},{"x":0.364,"y":1.53,"s":4,"d":"down"},{"x":0.454,"y":2.03,"s":4,"d":"down"},{"x":0.433,"y":1.64,"s":4,"d":"down"},{"x":0.773,"y":1.93,"s":4,"d":"down"},{"x":0.2,"y":1.5,"s":3,"d":"down"},{"x":0.125,"y":1.45,"s":3,"d":"down"}
],
"ab":[
{"otu":"OTU 402|","name":"Fusobacterium","bx":0.44,"ly":3.77,"x1":0.493,"y1":3.58,"x2":0.502,"y2":2.02,"ang":177},
{"otu":"OTU 614|","name":"Tannerella","bx":0.713,"ly":3.31,"x1":0.624,"y1":3.14,"x2":0.54,"y2":1.7,"ang":207},
{"otu":"OTU 3274|","name":"Unknown genus","bx":0.793,"ly":2.55,"x1":0.825,"y1":2.36,"x2":0.792,"y2":2.06,"ang":224}
]
},
"concat":[
{
"width":276,"height":188,
"layer":[
{"data":{"values":[{}]},"mark":{"type":"rule","color":"#444","strokeWidth":1.3},"encoding":{"x":{"datum":-4.31,"type":"quantitative","scale":{"domain":[6.4,96],"nice":false,"zero":false},"axis":null},"y":{"datum":1000,"type":"quantitative","scale":{"domain":[1000,6271],"nice":false,"zero":false},"title":"Alpha diversity measure"},"y2":{"datum":6000}}},
{"data":{"name":"alpha"},"mark":{"type":"errorbar","color":"#111","thickness":1.3},"encoding":{"x":{"field":"i","type":"quantitative","scale":{"domain":[6.4,96],"nice":false,"zero":false},"axis":null},"y":{"field":"v","type":"quantitative","scale":{"domain":[1000,6271],"nice":false,"zero":false},"title":"Alpha diversity measure"},"yError":{"field":"err"}}},
{"data":{"name":"alpha"},"mark":{"type":"point","filled":true,"size":36,"opacity":1},"encoding":{"x":{"field":"i","type":"quantitative","scale":{"domain":[6.4,96],"nice":false,"zero":false},"axis":null},"y":{"field":"v","type":"quantitative","scale":{"domain":[1000,6271],"nice":false,"zero":false},"title":"Alpha diversity measure","axis":{"values":[1000,2000,3000,4000,5000,6000],"tickCount":20,"format":"d","labelOverlap":false,"offset":33,"domain":false,"tickSize":4,"labelPadding":2,"labelFontSize":10.5,"titleFontSize":11.3,"titlePadding":3,"titleY":92}},"color":{"field":"g","type":"nominal","scale":{"domain":["Healthy","Pre-DM/DM","PD","Pre-DM/DM + PD"],"range":["#1b6089","#6ec896","#28aae1","#f57d6e"]},"legend":{"orient":"none","legendX":212,"legendY":-12,"title":null,"labelFontSize":10.8,"symbolSize":45,"rowPadding":2.3,"labelOffset":6,"padding":0,"symbolType":"circle"}}}},
{"data":{"name":"bars"},"transform":[{"filter":"datum.row == 'PD'"}],"mark":{"type":"rule","strokeWidth":7.5,"color":"#28aae1","strokeCap":"butt"},"encoding":{"x":{"field":"start","type":"quantitative","scale":{"domain":[6.4,96],"nice":false,"zero":false},"axis":null},"x2":{"field":"end"},"y":{"datum":635,"type":"quantitative","scale":{"domain":[1000,6271],"nice":false,"zero":false},"title":"Alpha diversity measure"}}},
{"data":{"name":"bars"},"transform":[{"filter":"datum.row == 'Pre-DM/DM'"}],"mark":{"type":"rule","strokeWidth":7.5,"color":"#f57d6e","strokeCap":"butt"},"encoding":{"x":{"field":"start","type":"quantitative","scale":{"domain":[6.4,96],"nice":false,"zero":false},"axis":null},"x2":{"field":"end"},"y":{"datum":321,"type":"quantitative","scale":{"domain":[1000,6271],"nice":false,"zero":false},"title":"Alpha diversity measure"}}},
{"data":{"name":"sig"},"transform":[{"filter":"datum.row == 'PD'"}],"mark":{"type":"text","align":"right","fontSize":12,"color":"#222"},"encoding":{"x":{"datum":6.1,"type":"quantitative","scale":{"domain":[6.4,96],"nice":false,"zero":false},"axis":null},"y":{"datum":690,"type":"quantitative","scale":{"domain":[1000,6271],"nice":false,"zero":false},"title":"Alpha diversity measure"},"text":{"field":"row"}}},
{"data":{"name":"sig"},"transform":[{"filter":"datum.row == 'Pre-DM/DM'"}],"mark":{"type":"text","align":"right","fontSize":12,"color":"#222"},"encoding":{"x":{"datum":6.1,"type":"quantitative","scale":{"domain":[6.4,96],"nice":false,"zero":false},"axis":null},"y":{"datum":327,"type":"quantitative","scale":{"domain":[1000,6271],"nice":false,"zero":false},"title":"Alpha diversity measure"},"text":{"field":"row"}}},
{"data":{"name":"sig"},"transform":[{"filter":"datum.row == 'PD'"}],"mark":{"type":"text","align":"left","fontSize":11,"color":"#9a9a9a"},"encoding":{"x":{"datum":96.97,"type":"quantitative","scale":{"domain":[6.4,96],"nice":false,"zero":false},"axis":null},"y":{"datum":690,"type":"quantitative","scale":{"domain":[1000,6271],"nice":false,"zero":false},"title":"Alpha diversity measure"},"text":{"field":"p"}}},
{"data":{"name":"sig"},"transform":[{"filter":"datum.row == 'Pre-DM/DM'"}],"mark":{"type":"text","align":"left","fontSize":11,"color":"#9a9a9a"},"encoding":{"x":{"datum":96.97,"type":"quantitative","scale":{"domain":[6.4,96],"nice":false,"zero":false},"axis":null},"y":{"datum":327,"type":"quantitative","scale":{"domain":[1000,6271],"nice":false,"zero":false},"title":"Alpha diversity measure"},"text":{"field":"p"}}},
{"data":{"values":[{}]},"mark":{"type":"text","fontSize":17,"fontWeight":"bold","color":"#111"},"encoding":{"x":{"datum":-15.12,"type":"quantitative","scale":{"domain":[6.4,96],"nice":false,"zero":false},"axis":null},"y":{"datum":7135,"type":"quantitative","scale":{"domain":[1000,6271],"nice":false,"zero":false},"title":"Alpha diversity measure"},"text":{"value":"A"}}},
{"data":{"values":[{}]},"mark":{"type":"text","fontSize":13.5,"fontWeight":"bold","color":"#111"},"encoding":{"x":{"datum":47.63,"type":"quantitative","scale":{"domain":[6.4,96],"nice":false,"zero":false},"axis":null},"y":{"datum":7121,"type":"quantitative","scale":{"domain":[1000,6271],"nice":false,"zero":false},"title":"Alpha diversity measure"},"text":{"value":"Alpha diversity Chao1 (16S sequencing)"}}}
]
},
{
"width":254,"height":190,
"layer":[
{"data":{"name":"gt"},"mark":{"type":"point","filled":true,"fill":"#e0e0e0","stroke":"#bababa","strokeWidth":1.4,"opacity":1},"encoding":{"x":{"field":"x","type":"quantitative","scale":{"domain":[0.2,1.0],"nice":false,"zero":false},"axis":{"values":[0.2,0.4,0.6,0.8,1.0],"tickCount":20,"format":".1f","offset":6,"tickSize":6,"labelPadding":4,"labelFontSize":12.5,"title":"prevalence in sample population","titleFontSize":12,"titlePadding":8}},"y":{"field":"y","type":"quantitative","scale":{"domain":[0,6],"nice":false,"zero":false},"axis":{"values":[0,1,2,3,4,5,6],"tickCount":20,"labelExpr":"'' + datum.value","offset":41,"tickSize":6,"labelPadding":2,"labelFontSize":12.5,"title":"−log10(q values) PD vs. non−PD","titleFontSize":12,"titlePadding":24,"titleY":90}},"size":{"field":"s","type":"ordinal","scale":{"domain":[1,2,3,4],"range":[8,24,50,85]},"legend":{"orient":"none","legendX":-104,"legendY":206,"direction":"horizontal","title":["Mean relative","abundance"],"titleOrient":"bottom","titleAnchor":"middle","titleAlign":"center","titleFontSize":12.5,"titleFontWeight":"normal","titleColor":"#333","titleLineHeight":13,"titlePadding":3,"labelExpr":"''","labelOffset":0,"columnPadding":6,"strokeColor":"#c0c0c0","padding":5,"symbolType":"circle","encode":{"symbols":{"update":{"fill":{"value":"transparent"},"stroke":{"value":"#bdbdbd"},"strokeWidth":{"value":1.2},"opacity":{"value":1}}}}}}}},
{"data":{"name":"st"},"mark":{"type":"point","filled":true,"fill":"#29a9e0","strokeWidth":0.9,"opacity":1},"encoding":{"x":{"field":"x","type":"quantitative","scale":{"domain":[0.2,1.0],"nice":false,"zero":false}},"y":{"field":"y","type":"quantitative","scale":{"domain":[0,6],"nice":false,"zero":false}},"size":{"field":"s","type":"ordinal","scale":{"domain":[1,2,3,4],"range":[8,24,50,85]}},"shape":{"field":"d","type":"nominal","scale":{"domain":["up","down"],"range":["circle","M -1.13 0 A 1.13 1.13 0 1 1 1.13 0 A 1.13 1.13 0 1 1 -1.13 0 Z M -1.13 0 L 1.13 0 M 0 -1.13 L 0 1.13"]},"legend":{"orient":"none","legendX":126,"legendY":-7,"title":null,"labelExpr":"datum.label == 'up' ? 'up in PD, q < 0.05' : 'down in PD, q < 0.05'","labelFontSize":12.3,"symbolSize":80,"rowPadding":0,"labelOffset":3,"padding":0,"encode":{"symbols":{"update":{"fill":{"value":"#29a9e0"},"opacity":{"value":1}}}}}},"stroke":{"field":"d","type":"nominal","scale":{"domain":["up","down"],"range":["#29a9e0","#c4c4c4"]},"legend":{"orient":"none","legendX":126,"legendY":-7,"title":null,"labelExpr":"datum.label == 'up' ? 'up in PD, q < 0.05' : 'down in PD, q < 0.05'","labelFontSize":12.3,"symbolSize":80,"rowPadding":0,"labelOffset":3,"padding":0,"encode":{"symbols":{"update":{"fill":{"value":"#29a9e0"},"opacity":{"value":1}}}}}}}},
{"data":{"name":"at"},"mark":{"type":"rule","color":"#222","strokeWidth":1},"encoding":{"x":{"field":"x1","type":"quantitative","scale":{"domain":[0.2,1.0],"nice":false,"zero":false}},"y":{"field":"y1","type":"quantitative","scale":{"domain":[0,6],"nice":false,"zero":false}},"x2":{"field":"x2"},"y2":{"field":"y2"}}},
{"data":{"name":"at"},"mark":{"type":"point","shape":"triangle-up","filled":true,"color":"#222","size":20,"opacity":1},"encoding":{"x":{"field":"x2","type":"quantitative","scale":{"domain":[0.2,1.0],"nice":false,"zero":false}},"y":{"field":"y2","type":"quantitative","scale":{"domain":[0,6],"nice":false,"zero":false}},"angle":{"field":"ang","type":"quantitative","scale":null}}},
{"data":{"name":"at"},"mark":{"type":"text","align":"right","dx":-1,"fontSize":10.6,"color":"#b3b3b3"},"encoding":{"x":{"field":"bx","type":"quantitative","scale":{"domain":[0.2,1.0],"nice":false,"zero":false}},"y":{"field":"ly","type":"quantitative","scale":{"domain":[0,6],"nice":false,"zero":false}},"text":{"field":"otu"}}},
{"data":{"name":"at"},"mark":{"type":"text","align":"left","dx":3,"fontSize":10.6,"fontStyle":"italic","color":"#222"},"encoding":{"x":{"field":"bx","type":"quantitative","scale":{"domain":[0.2,1.0],"nice":false,"zero":false}},"y":{"field":"ly","type":"quantitative","scale":{"domain":[0,6],"nice":false,"zero":false}},"text":{"field":"name"}}},
{"data":{"values":[{}]},"mark":{"type":"text","fontSize":17,"fontWeight":"bold","color":"#111"},"encoding":{"x":{"datum":-0.114,"type":"quantitative","scale":{"domain":[0.2,1.0],"nice":false,"zero":false}},"y":{"datum":6.97,"type":"quantitative","scale":{"domain":[0,6],"nice":false,"zero":false}},"text":{"value":"C"}}},
{"data":{"values":[{}]},"mark":{"type":"text","fontSize":13.5,"fontWeight":"bold","color":"#111"},"encoding":{"x":{"datum":0.55,"type":"quantitative","scale":{"domain":[0.2,1.0],"nice":false,"zero":false}},"y":{"datum":6.96,"type":"quantitative","scale":{"domain":[0,6],"nice":false,"zero":false}},"text":{"value":"Microbes associated with disease"}}}
]
},
{
"width":215,"height":192,
"layer":[
{"data":{"name":"ell"},"mark":{"type":"point","filled":true,"opacity":1,"fillOpacity":0.13,"strokeWidth":0},"encoding":{"x":{"field":"cx","type":"quantitative","scale":{"domain":[-0.6,0.6],"nice":false,"zero":false}},"y":{"field":"cy","type":"quantitative","scale":{"domain":[-0.6,0.6],"nice":false,"zero":false}},"fill":{"field":"g","type":"nominal","scale":{"domain":["Healthy","Pre-DM/DM","PD","Pre-DM/DM + PD"],"range":["#1b6089","#6ec896","#28aae1","#f57d6e"]},"legend":null},"shape":{"field":"g","type":"nominal","scale":{"domain":["Healthy","Pre-DM/DM","PD","Pre-DM/DM + PD"],"range":["M -0.99 0.139 A 1 0.52 -8 1 1 0.99 -0.139 A 1 0.52 -8 1 1 -0.99 0.139 Z","M -0.966 0.259 A 1 0.71 -15 1 1 0.966 -0.259 A 1 0.71 -15 1 1 -0.966 0.259 Z","M -0.978 0.208 A 1 0.435 -12 1 1 0.978 -0.208 A 1 0.435 -12 1 1 -0.978 0.208 Z","M -0.819 -0.574 A 1 0.817 35 1 1 0.819 0.574 A 1 0.817 35 1 1 -0.819 -0.574 Z"]},"legend":null},"size":{"field":"a","type":"quantitative","scale":{"type":"pow","exponent":2,"domain":[0,1],"range":[0,128407]},"legend":null}}},
{"data":{"name":"pcoa"},"mark":{"type":"point","filled":true,"size":16,"opacity":1},"encoding":{"x":{"field":"x","type":"quantitative","scale":{"domain":[-0.6,0.6],"nice":false,"zero":false},"axis":{"values":[-0.6,-0.4,-0.2,0,0.2,0.4,0.6],"tickCount":20,"format":".1f","offset":10,"tickSize":5,"labelPadding":2,"labelFontSize":10.6,"title":"Component 1","titleFontSize":10.5,"titlePadding":5}},"y":{"field":"y","type":"quantitative","scale":{"domain":[-0.6,0.6],"nice":false,"zero":false},"axis":{"values":[-0.6,-0.4,-0.2,0,0.2,0.4,0.6],"tickCount":20,"format":".1f","offset":27,"tickSize":5,"labelPadding":4,"labelFontSize":10.8,"title":"Component 2","titleFontSize":10.5,"titlePadding":5,"titleY":92}},"color":{"field":"g","type":"nominal","scale":{"domain":["Healthy","Pre-DM/DM","PD","Pre-DM/DM + PD"],"range":["#1b6089","#6ec896","#28aae1","#f57d6e"]},"legend":{"orient":"none","legendX":216,"legendY":-1.5,"title":null,"labelFontSize":10.6,"symbolSize":40,"rowPadding":2,"labelOffset":6,"padding":0,"symbolType":"circle"}}}},
{"data":{"values":[{}]},"mark":{"type":"text","fontSize":17,"fontWeight":"bold","color":"#111"},"encoding":{"x":{"datum":-0.97,"type":"quantitative","scale":{"domain":[-0.6,0.6],"nice":false,"zero":false}},"y":{"datum":0.803,"type":"quantitative","scale":{"domain":[-0.6,0.6],"nice":false,"zero":false}},"text":{"value":"B"}}},
{"data":{"values":[{}]},"mark":{"type":"text","fontSize":13.5,"fontWeight":"bold","color":"#111"},"encoding":{"x":{"datum":0.04,"type":"quantitative","scale":{"domain":[-0.6,0.6],"nice":false,"zero":false}},"y":{"datum":0.729,"type":"quantitative","scale":{"domain":[-0.6,0.6],"nice":false,"zero":false}},"text":{"value":"PCoA based on Bray–Curtis distance"}}}
]
},
{
"width":252,"height":194,
"layer":[
{"data":{"values":[{}]},"mark":{"type":"rule","color":"#444","strokeWidth":1.3},"encoding":{"x":{"datum":0.0698,"type":"quantitative","scale":{"domain":[0.2,1.0],"nice":false,"zero":false}},"y":{"datum":0,"type":"quantitative","scale":{"domain":[0,5.552],"nice":false,"zero":false}},"y2":{"datum":5}}},
{"data":{"name":"gb"},"mark":{"type":"point","filled":true,"fill":"#e0e0e0","stroke":"#bababa","strokeWidth":1.4,"opacity":1},"encoding":{"x":{"field":"x","type":"quantitative","scale":{"domain":[0.2,1.0],"nice":false,"zero":false},"axis":{"values":[0.2,0.4,0.6,0.8,1.0],"tickCount":20,"format":".1f","offset":8,"tickSize":6,"labelPadding":4,"labelFontSize":12.5,"title":"prevalence in sample population","titleFontSize":12,"titlePadding":8}},"y":{"field":"y","type":"quantitative","scale":{"domain":[0,5.552],"nice":false,"zero":false},"axis":{"values":[0,1,2,3,4,5],"tickCount":20,"labelExpr":"'' + datum.value","offset":41,"domain":false,"tickSize":6,"labelPadding":2,"labelFontSize":12.5,"title":"−log10(q values) Pre-DM/DM vs. non−DM","titleFontSize":12,"titlePadding":24,"titleY":106}},"size":{"field":"s","type":"ordinal","scale":{"domain":[1,2,3,4],"range":[8,24,50,85]},"legend":null}}},
{"data":{"name":"sb"},"mark":{"type":"point","filled":true,"fill":"#f47a6a","strokeWidth":0.9,"opacity":1},"encoding":{"x":{"field":"x","type":"quantitative","scale":{"domain":[0.2,1.0],"nice":false,"zero":false}},"y":{"field":"y","type":"quantitative","scale":{"domain":[0,5.552],"nice":false,"zero":false}},"size":{"field":"s","type":"ordinal","scale":{"domain":[1,2,3,4],"range":[8,24,50,85]},"legend":null},"shape":{"field":"d","type":"nominal","scale":{"domain":["up","down"],"range":["circle","M -1.13 0 A 1.13 1.13 0 1 1 1.13 0 A 1.13 1.13 0 1 1 -1.13 0 Z M -1.13 0 L 1.13 0 M 0 -1.13 L 0 1.13"]},"legend":{"orient":"none","legendX":85,"legendY":-6,"title":null,"labelExpr":"datum.label == 'up' ? 'up in Pre-DM/DM, q < 0.05' : 'down in Pre-DM/DM, q < 0.05'","labelFontSize":12.3,"symbolSize":80,"rowPadding":3,"labelOffset":3,"padding":0,"encode":{"symbols":{"update":{"fill":{"value":"#f47a6a"},"opacity":{"value":1}}}}}},"stroke":{"field":"d","type":"nominal","scale":{"domain":["up","down"],"range":["#f47a6a","#c4c4c4"]},"legend":{"orient":"none","legendX":85,"legendY":-6,"title":null,"labelExpr":"datum.label == 'up' ? 'up in Pre-DM/DM, q < 0.05' : 'down in Pre-DM/DM, q < 0.05'","labelFontSize":12.3,"symbolSize":80,"rowPadding":3,"labelOffset":3,"padding":0,"encode":{"symbols":{"update":{"fill":{"value":"#f47a6a"},"opacity":{"value":1}}}}}}}},
{"data":{"name":"ab"},"mark":{"type":"rule","color":"#222","strokeWidth":1},"encoding":{"x":{"field":"x1","type":"quantitative","scale":{"domain":[0.2,1.0],"nice":false,"zero":false}},"y":{"field":"y1","type":"quantitative","scale":{"domain":[0,5.552],"nice":false,"zero":false}},"x2":{"field":"x2"},"y2":{"field":"y2"}}},
{"data":{"name":"ab"},"mark":{"type":"point","shape":"triangle-up","filled":true,"color":"#222","size":20,"opacity":1},"encoding":{"x":{"field":"x2","type":"quantitative","scale":{"domain":[0.2,1.0],"nice":false,"zero":false}},"y":{"field":"y2","type":"quantitative","scale":{"domain":[0,5.552],"nice":false,"zero":false}},"angle":{"field":"ang","type":"quantitative","scale":null}}},
{"data":{"name":"ab"},"mark":{"type":"text","align":"right","dx":-1,"fontSize":10.6,"color":"#b3b3b3"},"encoding":{"x":{"field":"bx","type":"quantitative","scale":{"domain":[0.2,1.0],"nice":false,"zero":false}},"y":{"field":"ly","type":"quantitative","scale":{"domain":[0,5.552],"nice":false,"zero":false}},"text":{"field":"otu"}}},
{"data":{"name":"ab"},"mark":{"type":"text","align":"left","dx":3,"fontSize":10.6,"fontStyle":"italic","color":"#222"},"encoding":{"x":{"field":"bx","type":"quantitative","scale":{"domain":[0.2,1.0],"nice":false,"zero":false}},"y":{"field":"ly","type":"quantitative","scale":{"domain":[0,5.552],"nice":false,"zero":false}},"text":{"field":"name"}}}
]
}
]
}
